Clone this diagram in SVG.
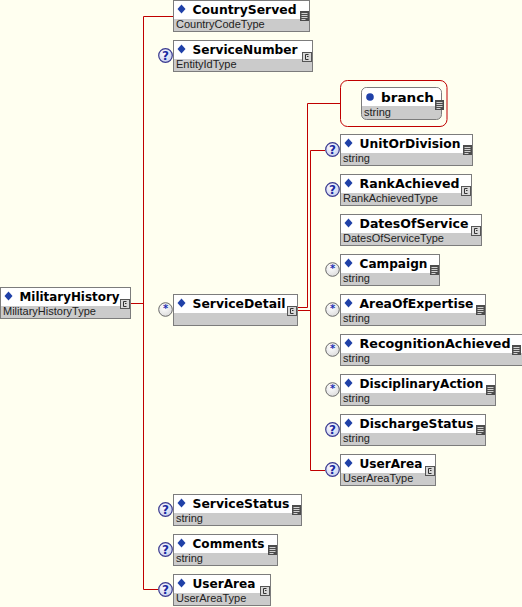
<svg xmlns="http://www.w3.org/2000/svg" xmlns:xlink="http://www.w3.org/1999/xlink" width="522" height="607" viewBox="0 0 522 607">
<style>
.box{fill:#cbcbcb;stroke:#7c7c7c;stroke-width:1}
.hd{fill:#ffffff}
.nm{font-family:"DejaVu Sans",Verdana,sans-serif;font-weight:bold;font-size:13px;fill:#000}
.tp{font-family:"Liberation Sans",Arial,sans-serif;font-size:11px;fill:#222}
.con{fill:none;stroke:#c00000;stroke-width:1}
.q{font-family:"DejaVu Sans",Verdana,sans-serif;font-weight:bold;font-size:12px;fill:#1a2aa0}
.st{font-family:"DejaVu Sans",Verdana,sans-serif;font-weight:bold;font-size:10px;fill:#2030b0}
</style>
<defs>
<radialGradient id="qg" cx="0.4" cy="0.35" r="0.7">
<stop offset="0" stop-color="#ffffff"/>
<stop offset="1" stop-color="#c4ccee"/>
</radialGradient>
<radialGradient id="sg" cx="0.4" cy="0.35" r="0.7">
<stop offset="0" stop-color="#ffffff"/>
<stop offset="1" stop-color="#dcdcdc"/>
</radialGradient>
<path id="dia" d="M0,-4.5 L4,0 L0,4.5 L-4,0 Z" fill="#1f40a8"/>
<g id="simp">
<rect x="0" y="0" width="9" height="10" fill="#4c4c4c"/>
<path d="M1.5,2.5 H7.5 M1.5,4.5 H7.5 M1.5,6.5 H7.5 M1.5,8.5 H5.5" stroke="#d0d0d0" stroke-width="1"/>
</g>
<g id="cplx">
<rect x="0.5" y="0.5" width="9" height="9" fill="#d8d8d8" stroke="#555" stroke-width="1"/>
<path d="M6.5,2.5 H3.5 V7.5 H6.5 M5,4.5 H6.5" fill="none" stroke="#333" stroke-width="1"/>
</g>
<g id="opt">
<circle cx="0" cy="0" r="6.8" fill="url(#qg)" stroke="#3a3a90" stroke-width="1.2"/>
<text class="q" x="0" y="4.5" text-anchor="middle">?</text>
</g>
<g id="many">
<circle cx="0" cy="0" r="6.8" fill="url(#sg)" stroke="#6a6a6a" stroke-width="1"/>
<text class="st" x="0" y="2.5" text-anchor="middle">*</text>
</g>
</defs>
<rect x="0" y="0" width="522" height="607" fill="#fffff0"/>

<g id="connectors">
<path class="con" d="M130,303.5 H143.5"/>
<path class="con" d="M143.5,16.5 V589.5"/>
<path class="con" d="M143.5,16.5 H173"/>
<path class="con" d="M143.5,589.5 H158"/>
<path class="con" d="M297,307.5 H307.5 V103.5 H340.5"/>
<path class="con" d="M297,310.5 H310.5"/>
<path class="con" d="M310.5,150.5 V470.5"/>
<path class="con" d="M310.5,150.5 H325"/>
<path class="con" d="M310.5,470.5 H325"/>
</g>

<g id="MilitaryHistory" transform="translate(0,287)">
<rect class="box" x="0.5" y="0.5" width="130" height="31"/>
<rect class="hd" x="1" y="1" width="129" height="18"/>
<use xlink:href="#dia" x="8.5" y="9"/>
<text class="nm" x="19.5" y="14" textLength="100" lengthAdjust="spacingAndGlyphs">MilitaryHistory</text>
<text class="tp" x="3" y="28">MilitaryHistoryType</text>
<use xlink:href="#cplx" x="120" y="12"/>
</g>

<g id="CountryServed" transform="translate(173,0)">
<rect class="box" x="0.5" y="0.5" width="136" height="31"/>
<rect class="hd" x="1" y="1" width="135" height="18"/>
<use xlink:href="#dia" x="8.5" y="9"/>
<text class="nm" x="19.5" y="14" textLength="104" lengthAdjust="spacingAndGlyphs">CountryServed</text>
<text class="tp" x="3" y="28">CountryCodeType</text>
<use xlink:href="#simp" x="127" y="11"/>
</g>

<g id="ServiceNumber" transform="translate(173,40)">
<use xlink:href="#opt" x="-7.5" y="15.5"/>
<rect class="box" x="0.5" y="0.5" width="139" height="31"/>
<rect class="hd" x="1" y="1" width="138" height="18"/>
<use xlink:href="#dia" x="8.5" y="9"/>
<text class="nm" x="19.5" y="14" textLength="105" lengthAdjust="spacingAndGlyphs">ServiceNumber</text>
<text class="tp" x="3" y="28">EntityIdType</text>
<use xlink:href="#cplx" x="129" y="12"/>
</g>

<g id="ServiceDetail" transform="translate(173,294)">
<use xlink:href="#many" x="-7.5" y="15.5"/>
<rect class="box" x="0.5" y="0.5" width="124" height="31"/>
<rect class="hd" x="1" y="1" width="123" height="18"/>
<use xlink:href="#dia" x="8.5" y="9"/>
<text class="nm" x="19.5" y="14" textLength="93" lengthAdjust="spacingAndGlyphs">ServiceDetail</text>
<use xlink:href="#cplx" x="114" y="12"/>
</g>

<g id="ServiceStatus" transform="translate(173,494)">
<use xlink:href="#opt" x="-7.5" y="15.5"/>
<rect class="box" x="0.5" y="0.5" width="128" height="31"/>
<rect class="hd" x="1" y="1" width="127" height="18"/>
<use xlink:href="#dia" x="8.5" y="9"/>
<text class="nm" x="19.5" y="14" textLength="97" lengthAdjust="spacingAndGlyphs">ServiceStatus</text>
<text class="tp" x="3" y="28">string</text>
<use xlink:href="#simp" x="119" y="11"/>
</g>

<g id="Comments" transform="translate(173,534)">
<use xlink:href="#opt" x="-7.5" y="15.5"/>
<rect class="box" x="0.5" y="0.5" width="104" height="31"/>
<rect class="hd" x="1" y="1" width="103" height="18"/>
<use xlink:href="#dia" x="8.5" y="9"/>
<text class="nm" x="19.5" y="14" textLength="72" lengthAdjust="spacingAndGlyphs">Comments</text>
<text class="tp" x="3" y="28">string</text>
<use xlink:href="#simp" x="95" y="11"/>
</g>

<g id="UserArea" transform="translate(173,574)">
<use xlink:href="#opt" x="-7.5" y="15.5"/>
<rect class="box" x="0.5" y="0.5" width="97" height="31"/>
<rect class="hd" x="1" y="1" width="96" height="18"/>
<use xlink:href="#dia" x="8.5" y="9"/>
<text class="nm" x="19.5" y="14" textLength="63" lengthAdjust="spacingAndGlyphs">UserArea</text>
<text class="tp" x="3" y="28">UserAreaType</text>
<use xlink:href="#cplx" x="87" y="12"/>
</g>

<g id="branch">
<rect x="340.5" y="80.5" width="106.5" height="46" rx="7" ry="7" fill="none" stroke="#c00000" stroke-width="1"/>
<g transform="translate(361,87)">
<rect x="0.5" y="0.5" width="80" height="32" rx="5" ry="5" fill="#cbcbcb" stroke="#7c7c7c"/>
<path d="M1,19 V5.5 A4.5,4.5 0 0 1 5.5,1 H75.5 A4.5,4.5 0 0 1 80,5.5 V19 Z" fill="#ffffff"/>
<circle cx="9" cy="10" r="3.8" fill="#1f40a8"/>
<text class="nm" x="20" y="14.5" textLength="53" lengthAdjust="spacingAndGlyphs">branch</text>
<text class="tp" x="3" y="28.5">string</text>
<use xlink:href="#simp" x="74" y="13"/>
</g>
</g>

<g id="UnitOrDivision" transform="translate(340,134)">
<use xlink:href="#opt" x="-7.5" y="15.5"/>
<rect class="box" x="0.5" y="0.5" width="132" height="31"/>
<rect class="hd" x="1" y="1" width="131" height="18"/>
<use xlink:href="#dia" x="8.5" y="9"/>
<text class="nm" x="19.5" y="14" textLength="101" lengthAdjust="spacingAndGlyphs">UnitOrDivision</text>
<text class="tp" x="3" y="28">string</text>
<use xlink:href="#simp" x="123" y="11"/>
</g>

<g id="RankAchieved" transform="translate(340,174)">
<use xlink:href="#opt" x="-7.5" y="15.5"/>
<rect class="box" x="0.5" y="0.5" width="131" height="31"/>
<rect class="hd" x="1" y="1" width="130" height="18"/>
<use xlink:href="#dia" x="8.5" y="9"/>
<text class="nm" x="19.5" y="14" textLength="100" lengthAdjust="spacingAndGlyphs">RankAchieved</text>
<text class="tp" x="3" y="28">RankAchievedType</text>
<use xlink:href="#cplx" x="121" y="12"/>
</g>

<g id="DatesOfService" transform="translate(340,214)">
<rect class="box" x="0.5" y="0.5" width="141" height="31"/>
<rect class="hd" x="1" y="1" width="140" height="18"/>
<use xlink:href="#dia" x="8.5" y="9"/>
<text class="nm" x="19.5" y="14" textLength="109" lengthAdjust="spacingAndGlyphs">DatesOfService</text>
<text class="tp" x="3" y="28">DatesOfServiceType</text>
<use xlink:href="#cplx" x="131" y="12"/>
</g>

<g id="Campaign" transform="translate(340,254)">
<use xlink:href="#many" x="-7.5" y="15.5"/>
<rect class="box" x="0.5" y="0.5" width="99" height="31"/>
<rect class="hd" x="1" y="1" width="98" height="18"/>
<use xlink:href="#dia" x="8.5" y="9"/>
<text class="nm" x="19.5" y="14" textLength="68" lengthAdjust="spacingAndGlyphs">Campaign</text>
<text class="tp" x="3" y="28">string</text>
<use xlink:href="#simp" x="90" y="11"/>
</g>

<g id="AreaOfExpertise" transform="translate(340,294)">
<use xlink:href="#many" x="-7.5" y="15.5"/>
<rect class="box" x="0.5" y="0.5" width="145" height="31"/>
<rect class="hd" x="1" y="1" width="144" height="18"/>
<use xlink:href="#dia" x="8.5" y="9"/>
<text class="nm" x="19.5" y="14" textLength="114" lengthAdjust="spacingAndGlyphs">AreaOfExpertise</text>
<text class="tp" x="3" y="28">string</text>
<use xlink:href="#simp" x="136" y="11"/>
</g>

<g id="RecognitionAchieved" transform="translate(340,334)">
<use xlink:href="#many" x="-7.5" y="15.5"/>
<rect class="box" x="0.5" y="0.5" width="182" height="31"/>
<rect class="hd" x="1" y="1" width="181" height="18"/>
<use xlink:href="#dia" x="8.5" y="9"/>
<text class="nm" x="19.5" y="14" textLength="151" lengthAdjust="spacingAndGlyphs">RecognitionAchieved</text>
<text class="tp" x="3" y="28">string</text>
<use xlink:href="#simp" x="172" y="11"/>
</g>

<g id="DisciplinaryAction" transform="translate(340,374)">
<use xlink:href="#many" x="-7.5" y="15.5"/>
<rect class="box" x="0.5" y="0.5" width="155" height="31"/>
<rect class="hd" x="1" y="1" width="154" height="18"/>
<use xlink:href="#dia" x="8.5" y="9"/>
<text class="nm" x="19.5" y="14" textLength="124" lengthAdjust="spacingAndGlyphs">DisciplinaryAction</text>
<text class="tp" x="3" y="28">string</text>
<use xlink:href="#simp" x="146" y="11"/>
</g>

<g id="DischargeStatus" transform="translate(340,414)">
<use xlink:href="#opt" x="-7.5" y="15.5"/>
<rect class="box" x="0.5" y="0.5" width="145" height="31"/>
<rect class="hd" x="1" y="1" width="144" height="18"/>
<use xlink:href="#dia" x="8.5" y="9"/>
<text class="nm" x="19.5" y="14" textLength="114" lengthAdjust="spacingAndGlyphs">DischargeStatus</text>
<text class="tp" x="3" y="28">string</text>
<use xlink:href="#simp" x="136" y="11"/>
</g>

<g id="UserArea2" transform="translate(340,454)">
<use xlink:href="#opt" x="-7.5" y="15.5"/>
<rect class="box" x="0.5" y="0.5" width="95" height="31"/>
<rect class="hd" x="1" y="1" width="94" height="18"/>
<use xlink:href="#dia" x="8.5" y="9"/>
<text class="nm" x="19.5" y="14" textLength="63" lengthAdjust="spacingAndGlyphs">UserArea</text>
<text class="tp" x="3" y="28">UserAreaType</text>
<use xlink:href="#cplx" x="85" y="12"/>
</g>
</svg>
